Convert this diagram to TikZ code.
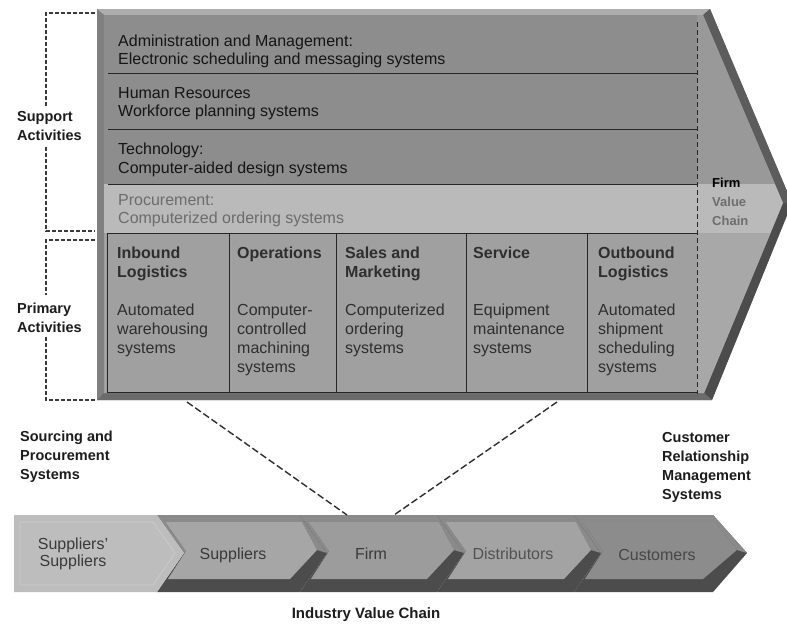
\documentclass[tikz,border=0pt]{standalone}
\usepackage{fontspec}
\setmainfont{Liberation Sans}
\definecolor{rowink}{HTML}{151515}
\definecolor{procink}{HTML}{6C6C6C}
\definecolor{colink}{HTML}{2E2E2E}
\definecolor{lblink}{HTML}{1C1C1C}
\definecolor{chainink}{HTML}{3A3A3A}
\definecolor{lineink}{HTML}{262626}
\definecolor{bracketink}{HTML}{3A3A3A}
\definecolor{connink}{HTML}{2E2E2E}
\definecolor{supfill}{HTML}{8D8D8D}
\definecolor{procfill}{HTML}{BABABA}
\definecolor{primfill}{HTML}{A0A0A0}
\definecolor{fvcgray}{HTML}{6E6E6E}

% one link of the industry chain:
% left edge, right edge, notch depth, tip depth, face colour
\newcommand\chainseg[5]{%
  \pgfmathsetmacro\cL{#1}\pgfmathsetmacro\cR{#2}%
  \pgfmathsetmacro\cN{#3}\pgfmathsetmacro\cD{#4}%
  \fill[fill=black!70] (\cL,515) -- (\cR,515) -- (\cR+\cD,553) -- (\cR,592)
        -- (\cL,592) -- (\cL+\cN,553) -- cycle;
  \fill[fill=black!46] (\cL,515) -- (\cR,515) -- (\cR+\cD,553) -- (\cR+\cD-10,550)
        -- (\cR+2,522) -- (\cL+0.2*\cN+3,522) -- (\cL+\cN+2,551) -- (\cL+\cN,553) -- cycle;
  \fill[fill=#5] (\cL+0.2*\cN+3,522) -- (\cR+2,522) -- (\cR+\cD-10,550)
        -- (\cR-10,579) -- (\cL+0.33*\cN+2,579) -- (\cL+\cN+2,551) -- cycle;
}

\begin{document}
\begin{tikzpicture}[x=1pt,y=-1pt,
  rowtxt/.style={inner sep=0pt, anchor=west, align=left,
    font=\fontsize{16}{18.5}\selectfont, text=rowink},
  coltxt/.style={inner sep=0pt, anchor=north west, align=left,
    font=\fontsize{16}{19}\selectfont, text=colink},
  sidelbl/.style={inner sep=0pt, anchor=west, align=left,
    font=\bfseries\fontsize{14.5}{19}\selectfont, text=lblink},
  chaintxt/.style={inner sep=0pt, align=center,
    font=\fontsize{16}{17}\selectfont, text=chainink},
  bracket/.style={draw=bracketink, line width=1.1pt, dash pattern=on 4pt off 2pt},
  conn/.style={draw=connink, line width=1.4pt, dash pattern=on 7pt off 3pt},
  rowline/.style={draw=lineink, line width=1pt},
  innerdash/.style={draw=lineink, line width=0.8pt, dash pattern=on 5pt off 3pt},
]
\useasboundingbox (0,0) rectangle (787,625);
\fill[white] (0,0) rectangle (787,625);

% ---------- firm value chain arrow ----------
\fill[black!52] (97,9) -- (710,9) -- (792,203) -- (712,400) -- (97,400) -- cycle;
\fill[black!32] (97,9) -- (710,9) -- (703,15) -- (104,15) -- cycle;          % top bevel
\fill[black!50] (97,9) -- (104,15) -- (104,393) -- (97,400) -- cycle;        % left bevel
\fill[black!64] (710,9) -- (792,203) -- (783,203) -- (703,15) -- cycle;      % upper right bevel
\fill[black!70] (792,203) -- (712,400) -- (704,393) -- (783,203) -- cycle;   % lower right bevel
\fill[black!58] (97,400) -- (712,400) -- (704,393) -- (104,393) -- cycle;    % bottom bevel
\begin{scope}
  \clip (104,15) -- (703,15) -- (783,203) -- (704,393) -- (104,393) -- cycle;
  \fill[supfill]  (100,10) rectangle (790,184);
  \fill[black!40] (697,10) rectangle (790,184);
  \fill[procfill] (100,184) rectangle (790,233);
  \fill[primfill] (100,233) rectangle (790,398);
  \fill[black!34] (697,233) rectangle (790,398);
\end{scope}

% support rows
\foreach \yy in {73,129,184,233} \draw[rowline] (108,\yy) -- (697,\yy);
% primary columns and frame
\foreach \xx in {229,336,466,587} \draw[rowline] (\xx,233) -- (\xx,392);
\draw[rowline] (107,233) -- (107,392) -- (697,392);
\draw[innerdash] (697,22) -- (697,394);

\node[rowtxt] (admin) at (118,51.5) {Administration and Management:\\Electronic scheduling and messaging systems};
\node[rowtxt] (hr)    at (118,103.5) {Human Resources\\Workforce planning systems};
\node[rowtxt] (tech)  at (118,160) {Technology:\\Computer-aided design systems};
\node[rowtxt, text=procink] (proc) at (118,210.5) {Procurement:\\Computerized ordering systems};

\node[coltxt] (inb) at (117,247) {\textbf{Inbound}\\\textbf{Logistics}\\\mbox{}\\Automated\\warehousing\\systems};
\node[coltxt] (ops) at (237,247) {\textbf{Operations}\\\mbox{}\\\mbox{}\\Computer-\\controlled\\machining\\systems};
\node[coltxt] (sam) at (345,247) {\textbf{Sales and}\\\textbf{Marketing}\\\mbox{}\\Computerized\\ordering\\systems};
\node[coltxt] (svc) at (473,247) {\textbf{Service}\\\mbox{}\\\mbox{}\\Equipment\\maintenance\\systems};
\node[coltxt] (outb) at (598,247) {\textbf{Outbound}\\\textbf{Logistics}\\\mbox{}\\Automated\\shipment\\scheduling\\systems};

\node[inner sep=0pt, anchor=north west, align=left, text=fvcgray,
  font=\bfseries\fontsize{13}{19}\selectfont] (fvc) at (712,178)
  {\textcolor{black}{Firm}\\Value\\Chain};

% ---------- side brackets ----------
\node[sidelbl] (supp) at (17,125.6) {Support\\Activities};
\node[sidelbl] (prim) at (17,318) {Primary\\Activities};
\draw[bracket] (95,13) -- (46,13) -- (46,107);
\draw[bracket] (46,147) -- (46,231) -- (95,231);
\draw[bracket] (95,240) -- (46,240) -- (46,295);
\draw[bracket] (46,337) -- (46,400) -- (95,400);

% ---------- industry value chain ----------
\chainseg{157}{300}{27}{27}{black!35}
\chainseg{300}{437}{27}{27}{black!39}
\chainseg{437}{574}{27}{27}{black!36}
\chainseg{574}{713}{27}{34}{black!45}
\fill[black!26] (14,515) -- (157,515) -- (184,553) -- (157,592) -- (14,592) -- cycle;
\draw[black!20, line width=0.7pt] (20,522) -- (153,522) -- (175,553) -- (153,585) -- (20,585) -- cycle;

\node[chaintxt, anchor=center] (ss) at (73,553.6) {Suppliers'\\Suppliers};
\node[chaintxt, anchor=base] (sup)  at (233,559.3) {Suppliers};
\node[chaintxt, anchor=base] (firm) at (371,559.3) {Firm};
\node[chaintxt, anchor=base, text=black!68] (dist) at (513,559.3) {Distributors};
\node[chaintxt, anchor=base, text=black!72] (cust) at (657,560) {Customers};

\node[sidelbl] (src) at (20,457) {Sourcing and\\Procurement\\Systems};
\node[sidelbl] (crm) at (662,467.3) {Customer\\Relationship\\Management\\Systems};
\node[inner sep=0pt, anchor=base, text=lblink, font=\bfseries\fontsize{15}{18}\selectfont]
  (ivc) at (366,618.3) {Industry Value Chain};

% ---------- links from the firm value chain down to the firm ----------
\coordinate (vcL) at (187,402);
\coordinate (vcR) at (557,402);
\coordinate (firmL) at (347,515);
\coordinate (firmR) at (394,515);
\draw[conn] (vcL) -- (firmL);
\draw[conn] (vcR) -- (firmR);
\end{tikzpicture}
\end{document}
